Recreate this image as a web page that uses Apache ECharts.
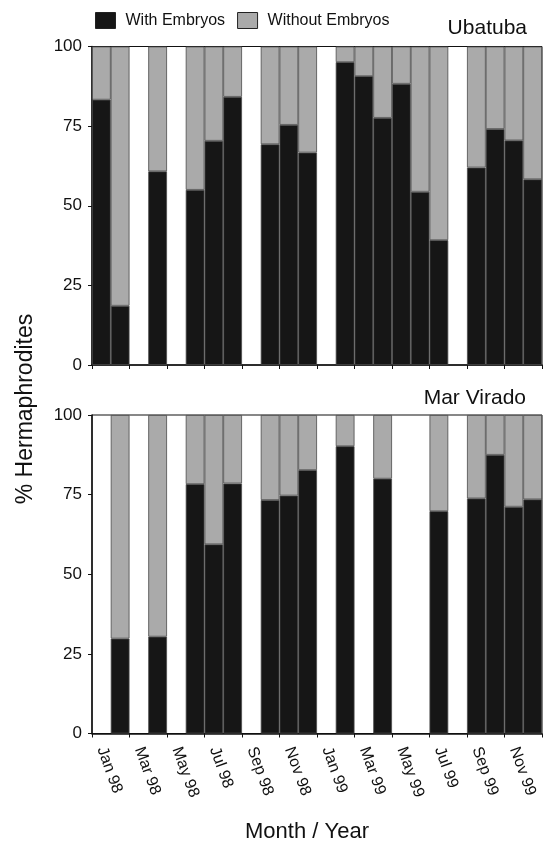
<!DOCTYPE html>
<html>
<head>
<meta charset="utf-8">
<script src="https://cdn.jsdelivr.net/npm/echarts@6/dist/echarts.min.js"></script>
<style>
  html, body { margin: 0; padding: 0; background: #fff; }
  #chart { width: 543px; height: 843px; }
</style>
</head>
<body>
<div id="chart"></div>
<script>
const months = [
  "Jan 98", "Feb 98", "Mar 98", "Apr 98", "May 98", "Jun 98",
  "Jul 98", "Aug 98", "Sep 98", "Oct 98", "Nov 98", "Dec 98",
  "Jan 99", "Feb 99", "Mar 99", "Apr 99", "May 99", "Jun 99",
  "Jul 99", "Aug 99", "Sep 99", "Oct 99", "Nov 99", "Dec 99"
];
const yTicks = [0, 25, 50, 75, 100];

// % with embryos, null = no sample that month
const ubatubaWith = [83.3, 18.6, null, 60.8, null, 55.0, 70.4, 84.2, null, 69.3, 75.4, 66.7,
  null, 95.1, 90.7, 77.6, 88.3, 54.4, 39.2, null, 62.0, 74.1, 70.5, 58.3];
const ubatubaWithout = [16.7, 81.4, null, 39.2, null, 45.0, 29.6, 15.8, null, 30.7, 24.6, 33.3,
  null, 4.9, 9.3, 22.4, 11.7, 45.6, 60.8, null, 38.0, 25.9, 29.5, 41.7];

const viradoWith = [null, 29.8, null, 30.4, null, 78.3, 59.4, 78.5, null, 73.3, 74.7, 82.7,
  null, 90.2, null, 80.0, null, null, 69.8, null, 73.8, 87.5, 71.2, 73.5];
const viradoWithout = [null, 70.2, null, 69.6, null, 21.7, 40.6, 21.5, null, 26.7, 25.3, 17.3,
  null, 9.8, null, 20.0, null, null, 30.2, null, 26.2, 12.5, 28.8, 26.5];

const font = "Liberation Sans, Arial, Helvetica, sans-serif";
const black = "#161616";
const gray = "#aaaaaa";

const chart = echarts.init(document.getElementById("chart"), null, { renderer: "canvas" });

const xAxisBase = (gridIndex, showLabels) => ({
  type: "category",
  gridIndex: gridIndex,
  data: months,
  boundaryGap: true,
  axisLine: { lineStyle: { color: "#111", width: 1.5 } },
  axisTick: { show: true, length: 4, lineStyle: { color: "#111" } },
  axisLabel: {
    show: showLabels,
    interval: 1,
    rotate: -70,
    margin: 14,
    fontSize: 16,
    fontFamily: font,
    color: "#111"
  },
  splitLine: { show: false }
});

const yAxisBase = gridIndex => ({
  type: "value",
  gridIndex: gridIndex,
  min: yTicks[0],
  max: yTicks[yTicks.length - 1],
  interval: 25,
  axisLine: { show: true, lineStyle: { color: "#111", width: 1.5 } },
  axisTick: { show: true, length: 4, lineStyle: { color: "#111" } },
  axisLabel: { fontSize: 17, fontFamily: font, color: "#111", margin: 10 },
  splitLine: { show: false }
});

const barSeries = (name, data, color, idx, stack) => ({
  name: name,
  type: "bar",
  stack: stack,
  xAxisIndex: idx,
  yAxisIndex: idx,
  data: data,
  barCategoryGap: 0,
  barGap: 0,
  itemStyle: { color: color, borderColor: "#4a4a4a", borderWidth: 0.8 },
  emphasis: { disabled: true }
});

const option = {
  animation: false,
  backgroundColor: "#fff",
  textStyle: { fontFamily: font },
  legend: {
    left: 90,
    top: 7,
    itemWidth: 20,
    itemHeight: 16,
    itemGap: 12,
    icon: "rect",
    textStyle: { fontSize: 16, color: "#111", fontFamily: font, padding: [0, 0, 0, 5] },
    data: [
      { name: "With Embryos", itemStyle: { color: black, borderColor: "#222", borderWidth: 1 } },
      { name: "Without Embryos", itemStyle: { color: gray, borderColor: "#222", borderWidth: 1 } }
    ]
  },
  grid: [
    { left: 92, right: 1, top: 46.5, height: 318.5, show: true, borderColor: "#111", borderWidth: 1 },
    { left: 92, right: 1, top: 415, height: 318.5, show: true, borderColor: "#111", borderWidth: 1 }
  ],
  xAxis: [xAxisBase(0, false), xAxisBase(1, true)],
  yAxis: [yAxisBase(0), yAxisBase(1)],
  series: [
    barSeries("With Embryos", ubatubaWith, black, 0, "uba"),
    barSeries("Without Embryos", ubatubaWithout, gray, 0, "uba"),
    barSeries("With Embryos", viradoWith, black, 1, "vir"),
    barSeries("Without Embryos", viradoWithout, gray, 1, "vir")
  ],
  graphic: [
    {
      type: "text", x: 527, y: 28,
      style: { text: "Ubatuba", fontSize: 21, fontFamily: font, fill: "#111", align: "right", verticalAlign: "middle" }
    },
    {
      type: "text", x: 526, y: 398,
      style: { text: "Mar Virado", fontSize: 21, fontFamily: font, fill: "#111", align: "right", verticalAlign: "middle" }
    },
    {
      type: "text", x: 26, y: 409, rotation: Math.PI / 2,
      style: { text: "% Hermaphrodites", fontSize: 23, fontFamily: font, fill: "#111", align: "center", verticalAlign: "middle" }
    },
    {
      type: "text", x: 307, y: 832,
      style: { text: "Month / Year", fontSize: 22, fontFamily: font, fill: "#111", align: "center", verticalAlign: "middle" }
    }
  ]
};

chart.setOption(option);
</script>
</body>
</html>
